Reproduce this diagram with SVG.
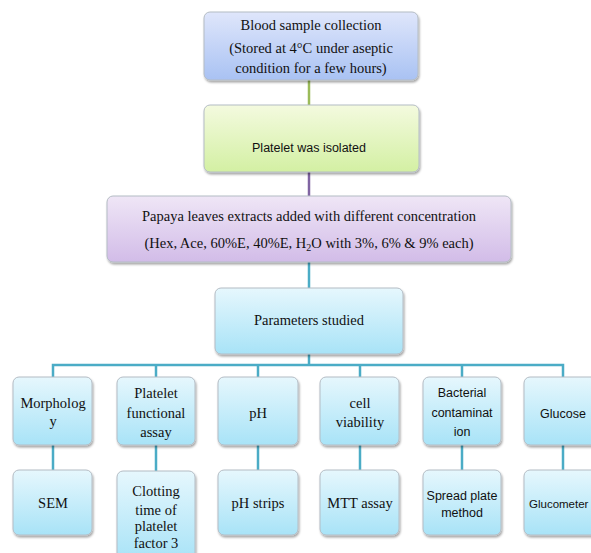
<svg xmlns="http://www.w3.org/2000/svg" width="591" height="553" viewBox="0 0 591 553">
<defs>
<linearGradient id="gBlue" x1="0" y1="0" x2="0" y2="1"><stop offset="0" stop-color="#dfe6fb"/><stop offset="1" stop-color="#a9c2f3"/></linearGradient>
<linearGradient id="gGreen" x1="0" y1="0" x2="0" y2="1"><stop offset="0" stop-color="#f4fadf"/><stop offset="1" stop-color="#d3f0a3"/></linearGradient>
<linearGradient id="gPurple" x1="0" y1="0" x2="0" y2="1"><stop offset="0" stop-color="#efe6f6"/><stop offset="1" stop-color="#d2bce8"/></linearGradient>
<linearGradient id="gCyan" x1="0" y1="0" x2="0" y2="1"><stop offset="0" stop-color="#e6f7fd"/><stop offset="1" stop-color="#a8e3f7"/></linearGradient>
<filter id="sh" x="-10%" y="-10%" width="130%" height="130%"><feDropShadow dx="1" dy="2" stdDeviation="1.2" flood-color="#000" flood-opacity="0.35"/></filter>
</defs>
<style>
.box{stroke:#b4bcc4;stroke-width:1;filter:url(#sh)}
.blue{fill:url(#gBlue)}
.green{fill:url(#gGreen)}
.purple{fill:url(#gPurple)}
.cyan{fill:url(#gCyan)}
.serif{font-family:"Liberation Serif","Times New Roman",serif;font-size:14.5px;fill:#111;text-anchor:middle}
.sans{font-family:"Liberation Sans",Arial,sans-serif;font-size:12.5px;fill:#111;text-anchor:middle}
.ln{fill:none;stroke-width:2.5}
.teal{stroke:#4bacc6}
</style>
<g id="connectors">
<line class="ln" x1="309" y1="80" x2="309" y2="105" stroke="#9bbb59"/>
<line class="ln" x1="309" y1="172" x2="309" y2="196" stroke="#8064a2"/>
<line class="ln teal" x1="309" y1="262" x2="309" y2="288"/>
<line class="ln teal" x1="309" y1="354" x2="309" y2="365"/>
<polyline class="ln teal" points="53,377 53,365 563,365 563,377"/>
<line class="ln teal" x1="156" y1="365" x2="156" y2="377"/>
<line class="ln teal" x1="258" y1="365" x2="258" y2="377"/>
<line class="ln teal" x1="360" y1="365" x2="360" y2="377"/>
<line class="ln teal" x1="462" y1="365" x2="462" y2="377"/>
<line class="ln teal" x1="53" y1="445" x2="53" y2="470"/>
<line class="ln teal" x1="156" y1="445" x2="156" y2="471"/>
<line class="ln teal" x1="258" y1="445" x2="258" y2="470"/>
<line class="ln teal" x1="360" y1="445" x2="360" y2="470"/>
<line class="ln teal" x1="462" y1="445" x2="462" y2="470"/>
<line class="ln teal" x1="563" y1="445" x2="563" y2="470"/>
</g>
<g id="blood">
<rect class="box blue" x="204" y="12" width="214" height="68" rx="6"/>
<text class="serif" x="311" y="30">Blood sample collection</text>
<text class="serif" x="311" y="53">(Stored at 4°C under aseptic</text>
<text class="serif" x="311" y="73">condition for a few hours)</text>
</g>
<g id="isolated">
<rect class="box green" x="204" y="105" width="215" height="67" rx="6"/>
<text class="sans" x="309" y="152">Platelet was isolated</text>
</g>
<g id="papaya">
<rect class="box purple" x="107" y="196" width="404" height="66" rx="6"/>
<text class="serif" x="309" y="221">Papaya leaves extracts added with different concentration</text>
<text class="serif" x="309" y="248">(Hex, Ace, 60%E, 40%E, H<tspan font-size="10" dy="3">2</tspan><tspan dy="-3">O with 3%, 6% &amp; 9% each)</tspan></text>
</g>
<g id="parameters">
<rect class="box cyan" x="215" y="288" width="188" height="66" rx="6"/>
<text class="serif" x="309" y="325">Parameters studied</text>
</g>
<g id="morphology">
<rect class="box cyan" x="13" y="377" width="79" height="68" rx="6"/>
<text class="serif" x="53" y="408">Morpholog</text>
<text class="serif" x="53" y="426">y</text>
</g>
<g id="platelet-functional">
<rect class="box cyan" x="117" y="377" width="78" height="68" rx="6"/>
<text class="serif" x="156" y="398">Platelet</text>
<text class="serif" x="156" y="418">functional</text>
<text class="serif" x="156" y="437">assay</text>
</g>
<g id="ph">
<rect class="box cyan" x="218" y="377" width="80" height="68" rx="6"/>
<text class="serif" x="258" y="418">pH</text>
</g>
<g id="cell-viability">
<rect class="box cyan" x="320" y="377" width="79" height="68" rx="6"/>
<text class="serif" x="360" y="408">cell</text>
<text class="serif" x="360" y="427">viability</text>
</g>
<g id="bacterial">
<rect class="box cyan" x="423" y="377" width="78" height="68" rx="6"/>
<text class="sans" x="462" y="397">Bacterial</text>
<text class="sans" x="462" y="417">contaminat</text>
<text class="sans" x="462" y="436">ion</text>
</g>
<g id="glucose">
<rect class="box cyan" x="524" y="377" width="78" height="68" rx="6"/>
<text class="sans" x="563" y="418">Glucose</text>
</g>
<g id="sem">
<rect class="box cyan" x="13" y="470" width="79" height="65" rx="6"/>
<text class="serif" x="53" y="508">SEM</text>
</g>
<g id="clotting">
<rect class="box cyan" x="117" y="471" width="78" height="90" rx="6"/>
<text class="serif" x="156" y="496">Clotting</text>
<text class="serif" x="156" y="515">time of</text>
<text class="serif" x="156" y="531">platelet</text>
<text class="serif" x="156" y="548">factor 3</text>
</g>
<g id="ph-strips">
<rect class="box cyan" x="218" y="470" width="80" height="65" rx="6"/>
<text class="serif" x="258" y="508">pH strips</text>
</g>
<g id="mtt">
<rect class="box cyan" x="320" y="470" width="79" height="65" rx="6"/>
<text class="serif" x="360" y="508">MTT assay</text>
</g>
<g id="spread-plate">
<rect class="box cyan" x="423" y="470" width="78" height="65" rx="6"/>
<text class="sans" x="462" y="500">Spread plate</text>
<text class="sans" x="462" y="517">method</text>
</g>
<g id="glucometer">
<rect class="box cyan" x="524" y="470" width="78" height="65" rx="6"/>
<text class="sans" x="529" y="508" style="text-anchor:start;font-size:11.5px">Glucometer</text>
</g>
</svg>
